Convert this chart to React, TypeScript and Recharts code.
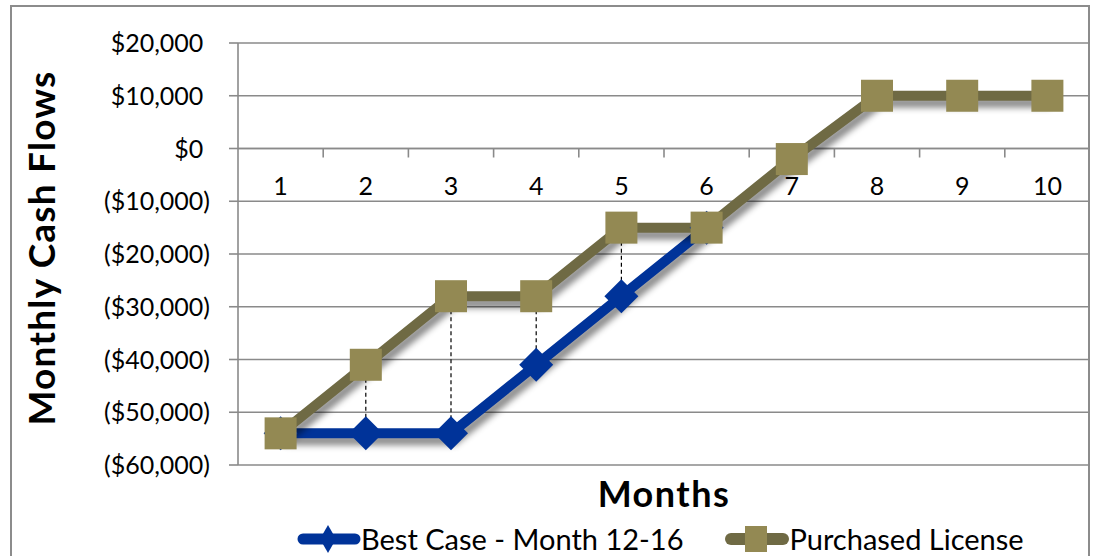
import React from 'react';
import { LineChart, Line, XAxis, YAxis, CartesianGrid, ReferenceLine, Legend } from 'recharts';

const months = ['1', '2', '3', '4', '5', '6', '7', '8', '9', '10'];
const bestCase: (number | null)[] = [-54000, -54000, -54000, -41000, -28000, -15000, null, null, null, null];
const purchasedLicense: number[] = [-54000, -41000, -28000, -28000, -15000, -15000, -2000, 10000, 10000, 10000];
const yTicks = [-60000, -50000, -40000, -30000, -20000, -10000, 0, 10000, 20000];
const seriesNames = ['Best Case - Month 12-16', 'Purchased License'];
const xTitle = 'Months';
const yTitle = 'Monthly Cash Flows';

const data = months.map((m, i) => ({ month: m, best: bestCase[i], purchased: purchasedLicense[i] }));
const dropMonths = months.filter((_, i) => bestCase[i] != null && bestCase[i] !== purchasedLicense[i]);

const FONT = 'Lato, "Liberation Sans", Arial, sans-serif';
const GRID = '#8a8a8a';
const BLUE = '#003399';
const OLIVE_LINE = '#6f6a44';
const OLIVE_FILL = '#938953';

const fmt = (v: number) => {
  const s = '$' + Math.abs(v).toLocaleString('en-US');
  return v < 0 ? `(${s})` : s;
};

const YTick = (props: any) => {
  const { x, y, payload } = props;
  const v = payload.value as number;
  return (
    <text x={x} y={y} dy="0.36em" textAnchor="end" fontSize={25} fill="#000" fontFamily={FONT}>
      {fmt(v)}
      {v >= 0 && <tspan fillOpacity={0}>)</tspan>}
    </text>
  );
};

const ZeroAxis = (props: any) => {
  const { x1, y1, x2 } = props;
  const n = months.length;
  const band = (x2 - x1) / n;
  return (
    <g>
      <line x1={x1} y1={y1} x2={x2} y2={y1} stroke={GRID} strokeWidth={1.6} />
      {months.slice(1).map((_, i) => (
        <line key={'t' + i} x1={x1 + band * (i + 1)} x2={x1 + band * (i + 1)} y1={y1} y2={y1 + 9} stroke={GRID} strokeWidth={1.6} />
      ))}
      {months.map((m, i) => (
        <text key={'l' + i} x={x1 + band * (i + 0.5)} y={y1 + 37} dy="0.36em" textAnchor="middle" fontSize={25} fill="#000" fontFamily={FONT}>
          {m}
        </text>
      ))}
    </g>
  );
};

const SquareDot = (props: any) => {
  const { cx, cy, index } = props;
  if (cx == null || cy == null) return <g key={'s' + index} />;
  return <rect key={'s' + index} x={cx - 16} y={cy - 16} width={32} height={32} fill={OLIVE_FILL} />;
};

const DiamondDot = (props: any) => {
  const { cx, cy, index } = props;
  if (cx == null || cy == null) return <g key={'d' + index} />;
  const r = 17;
  return <polygon key={'d' + index} points={`${cx},${cy - r} ${cx + r},${cy} ${cx},${cy + r} ${cx - r},${cy}`} fill={BLUE} />;
};

const renderLegend = () => (
  <div style={{ display: 'flex', alignItems: 'center', paddingLeft: 297, fontFamily: FONT, fontSize: 29, color: '#000', height: 36, lineHeight: '36px' }}>
    <svg width={64} height={36} style={{ display: 'block' }}>
      <line x1={6} y1={18} x2={58} y2={18} stroke={BLUE} strokeWidth={11} strokeLinecap="round" />
      <polygon points="31,4 39,18 31,32 23,18" fill={BLUE} />
    </svg>
    <span style={{ marginRight: 42 }}>{seriesNames[0]}</span>
    <svg width={64} height={36} style={{ display: 'block' }}>
      <line x1={6} y1={18} x2={58} y2={18} stroke={OLIVE_LINE} strokeWidth={12} strokeLinecap="round" />
      <rect x={20} y={5} width={22} height={26} fill={OLIVE_FILL} />
    </svg>
    <span>{seriesNames[1]}</span>
  </div>
);

export default function App() {
  return (
    <div style={{ position: 'relative', width: 1093, height: 556, overflow: 'hidden', background: '#fff' }}>
      <style>{`html, body { margin: 0; padding: 0; overflow: hidden; } .shadowed { filter: drop-shadow(3px 7px 3px rgba(0,0,0,0.45)); }`}</style>
      <div style={{ position: 'absolute', left: 10, top: 5, width: 1080, height: 620, border: '2px solid #8c8c8c', boxSizing: 'border-box' }} />
      <div style={{ position: 'absolute', left: 0, top: 0 }}>
        <LineChart width={1093} height={556} data={data} margin={{ top: 43, right: 3, bottom: 55, left: 0 }}>
          <CartesianGrid vertical={false} stroke={GRID} strokeWidth={1.6} />
          <XAxis dataKey="month" scale="band" hide />
          <YAxis
            width={238}
            domain={[-60000, 20000]}
            ticks={yTicks}
            interval={0}
            tick={<YTick />}
            tickSize={9}
            tickMargin={19}
            axisLine={{ stroke: GRID, strokeWidth: 1.6 }}
            tickLine={{ stroke: GRID, strokeWidth: 1.6 }}
            label={{
              content: (p: any) => {
                const vb = p.viewBox || {};
                const cx = (vb.x || 0) + 42;
                const cy = (vb.y || 0) + (vb.height || 0) / 2 - 6;
                return (
                  <text x={cx} y={cy} transform={`rotate(-90, ${cx}, ${cy})`} textAnchor="middle" dy="0.36em" fontSize={37} fontWeight={700} letterSpacing={1.2} fill="#000" fontFamily={FONT}>
                    {yTitle}
                  </text>
                );
              },
            }}
          />
          <ReferenceLine y={0} shape={(p: any) => <ZeroAxis {...p} />} />
          <Line
            className="shadowed"
            dataKey="best"
            name={seriesNames[0]}
            stroke={BLUE}
            strokeWidth={10}
            dot={<DiamondDot />}
            activeDot={false}
            isAnimationActive={false}
          />
          <Line
            className="shadowed"
            dataKey="purchased"
            name={seriesNames[1]}
            stroke={OLIVE_LINE}
            strokeWidth={10}
            dot={<SquareDot />}
            activeDot={false}
            isAnimationActive={false}
          />
          {dropMonths.map((m) => {
            const i = months.indexOf(m);
            return (
              <ReferenceLine
                key={'drop' + m}
                segment={[{ x: m, y: purchasedLicense[i] }, { x: m, y: bestCase[i] as number }]}
                stroke="#000"
                strokeWidth={1.2}
                strokeDasharray="4 3"
                ifOverflow="visible"
              />
            );
          })}
          <Legend content={renderLegend} wrapperStyle={{ position: 'absolute', left: 0, top: 521, bottom: 'auto', width: 1093, height: 36 }} />
        </LineChart>
      </div>
      <div style={{ position: 'absolute', left: 238, width: 852, top: 470, textAlign: 'center', fontFamily: FONT, fontSize: 36, fontWeight: 700, letterSpacing: 1.5, lineHeight: '46px', color: '#000' }}>
        {xTitle}
      </div>
    </div>
  );
}
